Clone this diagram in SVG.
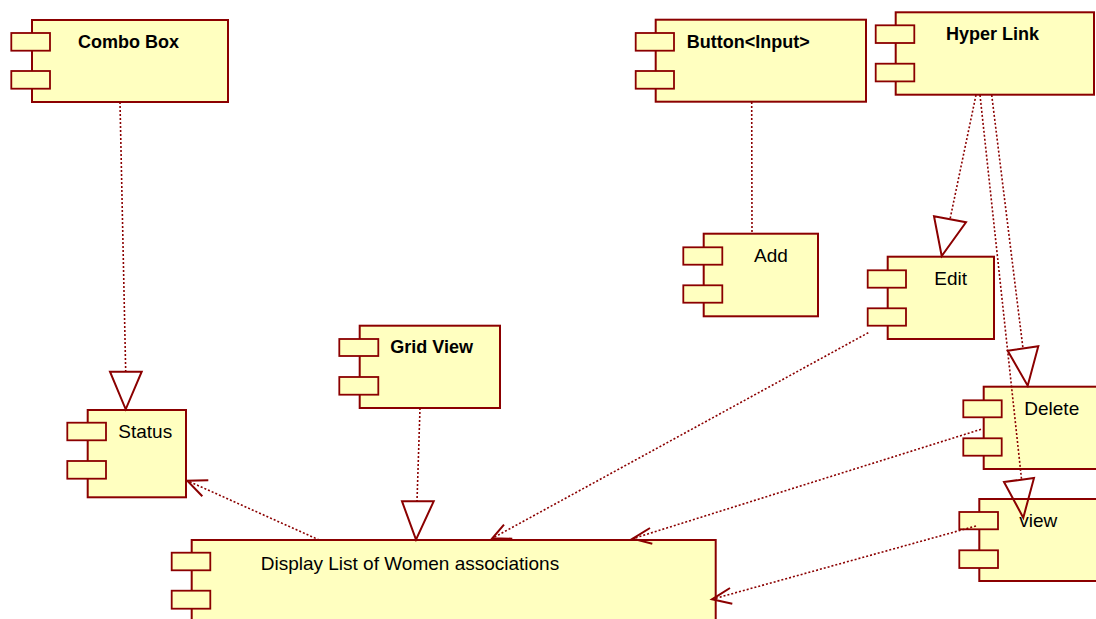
<svg xmlns="http://www.w3.org/2000/svg" width="1096" height="619" viewBox="0 0 1096 619">
<style>
.body{fill:#FFFFC0;stroke:#8B0000;stroke-width:2}
.tab{fill:#FFFFC0;stroke:#8B0000;stroke-width:1.8}
.lb{font-family:"Liberation Sans",Arial,sans-serif;font-size:18px;font-weight:bold;fill:#000}
.lr{font-family:"Liberation Sans",Arial,sans-serif;font-size:19px;fill:#000}
.dep{fill:none;stroke:#8B0000;stroke-width:1.6;stroke-dasharray:2 2}
.tri{fill:none;stroke:#8B0000;stroke-width:2;stroke-linejoin:miter}
.open{fill:none;stroke:#8B0000;stroke-width:2}
</style>
<rect width="1096" height="619" fill="#fff"/>
<g id="nodes">
<g id="combo-box">
<rect class="body" x="32" y="20" width="196" height="82"/>
<rect class="tab" x="11.3" y="33" width="38.7" height="17.7"/>
<rect class="tab" x="11.3" y="71" width="38.7" height="17.7"/>
<text class="lb" x="78" y="47.7">Combo Box</text>
</g>
<g id="button-input">
<rect class="body" x="655.7" y="19.7" width="210.3" height="82"/>
<rect class="tab" x="635.7" y="33" width="38.3" height="17.7"/>
<rect class="tab" x="635.7" y="71" width="38.3" height="17.7"/>
<text class="lb" x="686.7" y="47.7">Button&lt;Input&gt;</text>
</g>
<g id="hyper-link">
<rect class="body" x="895.7" y="12.3" width="198.3" height="82.4"/>
<rect class="tab" x="875.7" y="25.3" width="38.6" height="17.7"/>
<rect class="tab" x="875.7" y="63.7" width="38.6" height="17.7"/>
<text class="lb" x="946" y="40">Hyper Link</text>
</g>
<g id="add">
<rect class="body" x="703.7" y="233.7" width="114.3" height="82.6"/>
<rect class="tab" x="683.3" y="247.3" width="39" height="17.4"/>
<rect class="tab" x="683.3" y="285.3" width="39" height="17.4"/>
<text class="lr" x="754" y="262">Add</text>
</g>
<g id="edit">
<rect class="body" x="887.7" y="256.7" width="106.3" height="82.3"/>
<rect class="tab" x="867.7" y="270.3" width="38.3" height="17.4"/>
<rect class="tab" x="867.7" y="308.3" width="38.3" height="17.4"/>
<text class="lr" x="934.3" y="285">Edit</text>
</g>
<g id="grid-view">
<rect class="body" x="359.7" y="325.7" width="140.3" height="82.3"/>
<rect class="tab" x="339.3" y="339" width="39" height="17"/>
<rect class="tab" x="339.3" y="377" width="39" height="17.7"/>
<text class="lb" x="390.3" y="353.3">Grid View</text>
</g>
<g id="status">
<rect class="body" x="87.7" y="410" width="98.3" height="87.3"/>
<rect class="tab" x="67.3" y="422.7" width="38.7" height="17.6"/>
<rect class="tab" x="67.3" y="461" width="38.7" height="17.7"/>
<text class="lr" x="118.3" y="438.3">Status</text>
</g>
<g id="delete">
<rect class="body" x="983.7" y="386.7" width="120" height="82.3"/>
<rect class="tab" x="963.3" y="400.3" width="38.4" height="17"/>
<rect class="tab" x="963.3" y="438.3" width="38.4" height="17.4"/>
<text class="lr" x="1024.3" y="415">Delete</text>
</g>
<g id="view">
<rect class="body" x="979.3" y="499" width="125" height="82"/>
<rect class="tab" x="959.3" y="512" width="38.7" height="17.3"/>
<rect class="tab" x="959.3" y="550.3" width="38.7" height="17.7"/>
<text class="lr" x="1019.3" y="526.7">view</text>
</g>
<g id="display-list">
<rect class="body" x="191.7" y="540" width="524" height="90"/>
<rect class="tab" x="171.7" y="552.7" width="38.6" height="17.6"/>
<rect class="tab" x="171.7" y="590.7" width="38.6" height="18"/>
<text class="lr" x="260.7" y="570">Display List of Women associations</text>
</g>
</g>
<g id="connectors">
<line class="dep" x1="120" y1="102" x2="125.7" y2="371.7"/>
<polygon class="tri" points="110,371.7 141.7,371.7 125.7,409.3"/>
<line class="dep" x1="751.7" y1="102" x2="752" y2="233.7"/>
<line class="dep" x1="976" y1="95" x2="950" y2="219.3"/>
<polygon class="tri" points="934,216.3 966,222.3 941.7,256"/>
<line class="dep" x1="991.7" y1="95" x2="1023" y2="348.5"/>
<polygon class="tri" points="1007.7,350.7 1038.3,346.3 1027.7,385.7"/>
<line class="dep" x1="980" y1="95" x2="1021.5" y2="479"/>
<polygon class="tri" points="1004,482 1034,478 1023.3,517.7"/>
<line class="dep" x1="420" y1="408" x2="417" y2="501.3"/>
<polygon class="tri" points="402,501.3 433.7,501.3 416,539.7"/>
<line class="dep" x1="319.3" y1="540" x2="187.3" y2="480.7"/>
<polyline class="open" points="208.3,480.3 187.3,480.7 202.3,496.3"/>
<line class="dep" x1="868.3" y1="332.7" x2="492.3" y2="538.3"/>
<polyline class="open" points="504,524.7 492.3,538.3 512.3,538.7"/>
<line class="dep" x1="981" y1="429.3" x2="632.7" y2="538.7"/>
<polyline class="open" points="650,528 632.7,538.7 652.3,543.7"/>
<line class="dep" x1="976" y1="526" x2="712" y2="599.3"/>
<polyline class="open" points="730,588 712,599.3 732.3,603.7"/>
</g>
</svg>
